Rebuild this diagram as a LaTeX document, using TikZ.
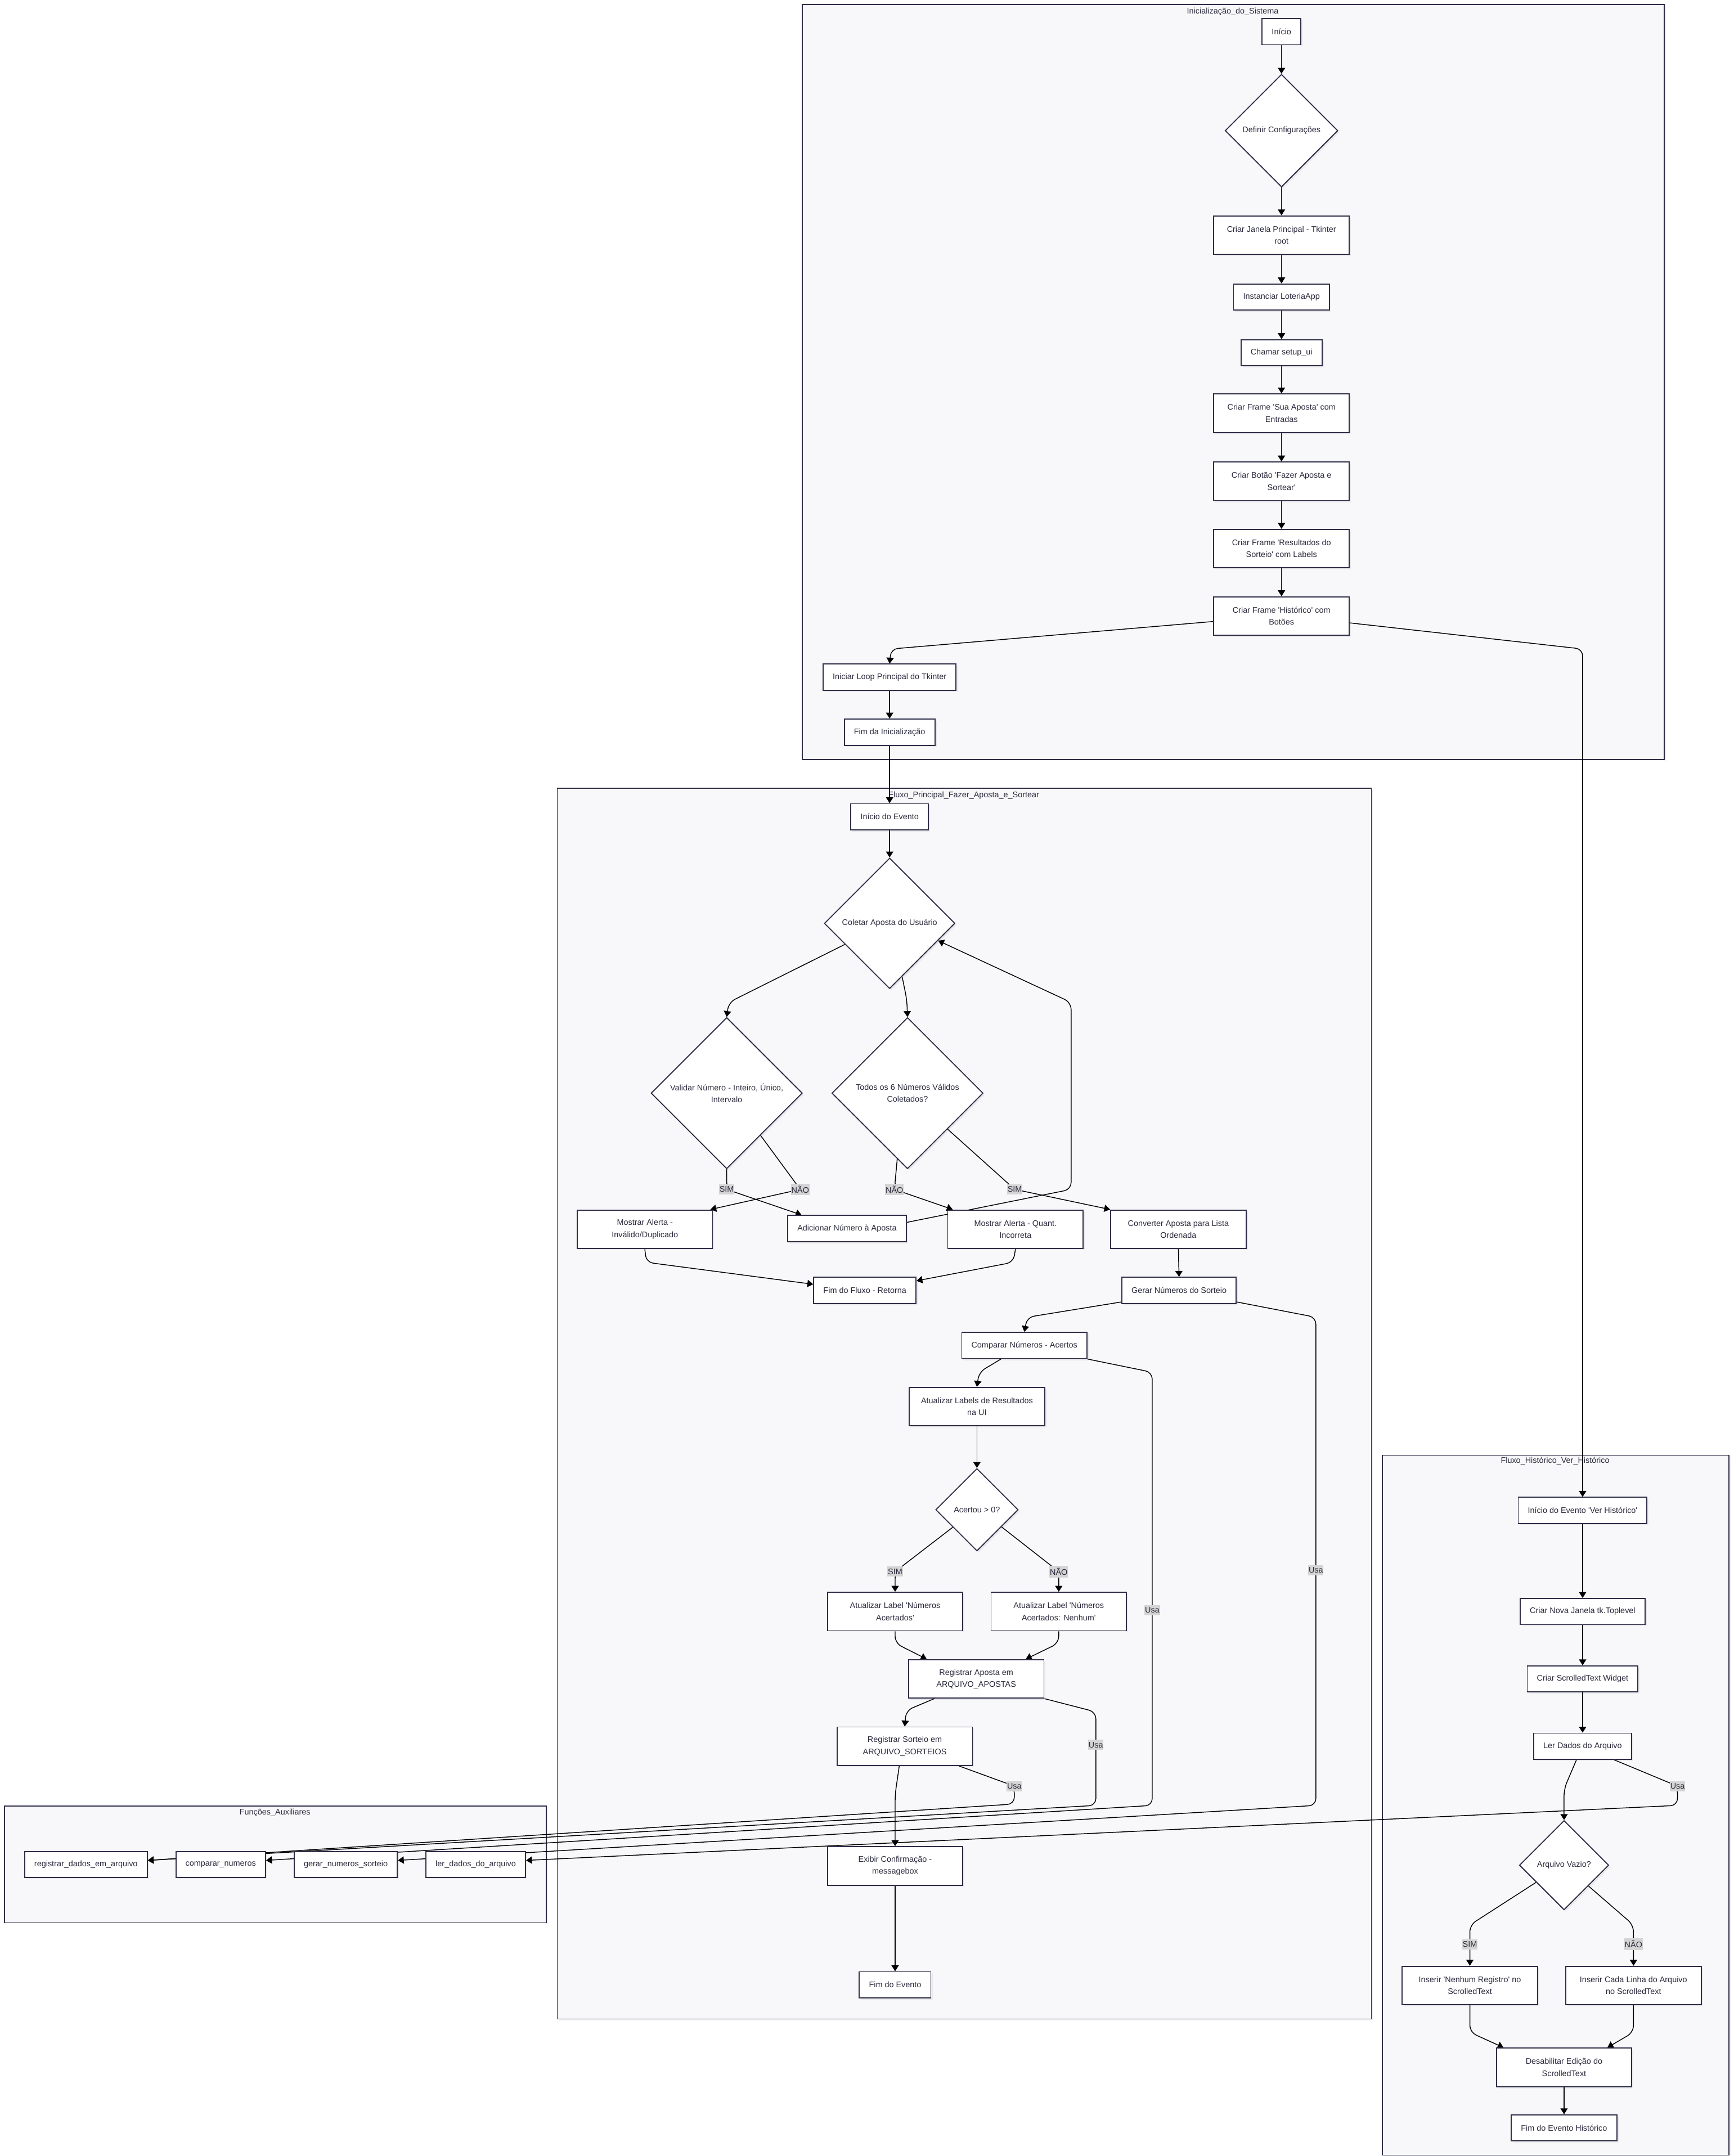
\documentclass[tikz,border=0pt]{standalone}
\usepackage{fontspec}
\setmainfont{Liberation Sans}
\usetikzlibrary{shapes.geometric,arrows.meta,calc,shadows}
\definecolor{ink}{HTML}{2A2A3C}
\definecolor{frame}{HTML}{2E2E48}
\definecolor{panel}{HTML}{F8F8FA}
\definecolor{tagfill}{HTML}{D4D4D4}
\newcommand{\nf}{\fontsize{5.9pt}{8.75pt}\selectfont}
\newcommand{\q}{\textquotesingle}

\pgfdeclarelayer{clusters}
\pgfdeclarelayer{edges}
\pgfsetlayers{clusters,edges,main}

\begin{document}
\begin{tikzpicture}[x=1pt,y=-1pt,
  stepbox/.style={draw=frame, fill=white, line width=0.75pt, font=\nf, text=ink,
    align=center, inner xsep=7pt, inner ysep=0pt, minimum height=19pt,
    drop shadow={shadow xshift=1.2pt,shadow yshift=-1.2pt,opacity=0.12}},
  twoline/.style={stepbox, minimum height=28pt, minimum width=98.5pt, inner xsep=2pt},
  choice/.style={stepbox, diamond, aspect=1, inner sep=0pt, minimum width=#1, minimum height=#1},
  cluster/.style={draw=frame, fill=panel, line width=0.7pt, anchor=north west, inner sep=0pt,
    drop shadow={shadow xshift=1.2pt,shadow yshift=-1.2pt,opacity=0.10}},
  ctitle/.style={font=\nf, text=ink, inner sep=0pt},
  flow/.style={draw=black, line width=0.6pt, rounded corners=5pt,
    -{Triangle[length=4.3pt,width=5.3pt]}},
  tag/.style={sharp corners, fill=tagfill, font=\nf, text=ink, inner xsep=0.3pt, inner ysep=1.6pt}
]
% page area
\useasboundingbox (0,0) rectangle (1261,1568);

% ---------- subgraph frames ----------
\begin{pgfonlayer}{clusters}
\fill[white] (0,0) rectangle (1261,1568);
\node[cluster, minimum width=627pt, minimum height=549pt] (initframe) at (583,3) {};
\node[ctitle] (inittitle) at (896.5,8.5) {Inicialização\_do\_Sistema};
\node[cluster, minimum width=592pt, minimum height=895pt] (mainframe) at (405,573) {};
\node[ctitle] (maintitle) at (701,578.5) {Fluxo\_Principal\_Fazer\_Aposta\_e\_Sortear};
\node[cluster, minimum width=252pt, minimum height=509pt] (histframe) at (1005,1058) {};
\node[ctitle] (histtitle) at (1131,1062.5) {Fluxo\_Histórico\_Ver\_Histórico};
\node[cluster, minimum width=394pt, minimum height=85pt] (auxframe) at (3,1313) {};
\node[ctitle] (auxtitle) at (200,1318.5) {Funções\_Auxiliares};
\end{pgfonlayer}

% ---------- system start-up ----------
\node[stepbox] (inicio) at (932,23) {Início};
\node[choice=82pt] (definir) at (932,95) {Definir Configurações};
\node[twoline] (janela) at (932,171) {Criar Janela Principal - Tkinter\\root};
\node[stepbox] (instanciar) at (932,216) {Instanciar LoteriaApp};
\node[stepbox] (setupui) at (932,256.5) {Chamar setup\_ui};
\node[twoline] (suaaposta) at (932,300.5) {Criar Frame \q Sua Aposta\q{} com\\Entradas};
\node[twoline] (botao) at (932,350) {Criar Botão \q Fazer Aposta e\\Sortear\q};
\node[twoline] (resultados) at (932,399) {Criar Frame \q Resultados do\\Sorteio\q{} com Labels};
\node[twoline] (historico) at (932,448) {Criar Frame \q Histórico\q{} com\\Botões};
\node[stepbox] (loopmain) at (647,492.5) {Iniciar Loop Principal do Tkinter};
\node[stepbox] (fiminit) at (647,532.5) {Fim da Inicialização};

% ---------- bet and draw ----------
\node[stepbox] (inicioevt) at (647,594) {Início do Evento};
\node[choice=95pt] (coletar) at (647,671.5) {Coletar Aposta do Usuário};
\node[choice=110pt] (validar) at (528.5,795) {Validar Número - Inteiro, Único,\\Intervalo};
\node[choice=110pt] (todos) at (660,795) {Todos os 6 Números Válidos\\Coletados?};
\node[twoline] (alertinv) at (469,894) {Mostrar Alerta -\\Inválido/Duplicado};
\node[stepbox] (adicionar) at (616,893.5) {Adicionar Número à Aposta};
\node[twoline] (alertquant) at (738.5,894) {Mostrar Alerta - Quant.\\Incorreta};
\node[twoline] (converter) at (857,894) {Converter Aposta para Lista\\Ordenada};
\node[stepbox] (fimfluxo) at (629,938.5) {Fim do Fluxo - Retorna};
\node[stepbox] (gerar) at (857.5,938.5) {Gerar Números do Sorteio};
\node[stepbox] (comparar) at (745,978.5) {Comparar Números - Acertos};
\node[twoline] (atualiz) at (710.5,1023) {Atualizar Labels de Resultados\\na UI};
\node[choice=60pt] (acertou) at (710.5,1098) {Acertou > 0?};
\node[twoline] (lblacert) at (651,1172) {Atualizar Label \q Números\\Acertados\q};
\node[twoline] (lblnenhum) at (770,1172) {Atualizar Label \q Números\\Acertados: Nenhum\q};
\node[twoline] (regaposta) at (710,1221) {Registrar Aposta em\\ARQUIVO\_APOSTAS};
\node[twoline] (regsorteio) at (658,1270) {Registrar Sorteio em\\ARQUIVO\_SORTEIOS};
\node[twoline] (exibir) at (651,1357) {Exibir Confirmação -\\messagebox};
\node[stepbox] (fimevento) at (651,1443.5) {Fim do Evento};

% ---------- history view ----------
\node[stepbox] (verhist) at (1151,1098.5) {Início do Evento \q Ver Histórico\q};
\node[stepbox] (novajanela) at (1151,1172) {Criar Nova Janela tk.Toplevel};
\node[stepbox] (scrolled) at (1151,1221) {Criar ScrolledText Widget};
\node[stepbox] (lerdados) at (1151,1270) {Ler Dados do Arquivo};
\node[choice=65pt] (arqvazio) at (1137.5,1356.5) {Arquivo Vazio?};
\node[twoline] (nenhumreg) at (1069,1444) {Inserir \q Nenhum Registro\q{} no\\ScrolledText};
\node[twoline] (cadalinha) at (1188,1444) {Inserir Cada Linha do Arquivo\\no ScrolledText};
\node[twoline] (desabilitar) at (1137.5,1503.5) {Desabilitar Edição do\\ScrolledText};
\node[stepbox] (fimhist) at (1137.5,1547.5) {Fim do Evento Histórico};

% ---------- helper functions ----------
\node[stepbox] (fregistrar) at (62.5,1356) {registrar\_dados\_em\_arquivo};
\node[stepbox] (fcomparar) at (160.5,1356) {comparar\_numeros};
\node[stepbox] (fgerar) at (251.5,1356) {gerar\_numeros\_sorteio};
\node[stepbox] (fler) at (346,1356) {ler\_dados\_do\_arquivo};

% ---------- connectors ----------
\begin{pgfonlayer}{edges}
% start-up chain
\draw[flow] (inicio.south) -- (definir.north);
\draw[flow] (definir.south) -- (janela.north);
\draw[flow] (janela.south) -- (instanciar.north);
\draw[flow] (instanciar.south) -- (setupui.north);
\draw[flow] (setupui.south) -- (suaaposta.north);
\draw[flow] (suaaposta.south) -- (botao.north);
\draw[flow] (botao.south) -- (resultados.north);
\draw[flow] (resultados.south) -- (historico.north);
\draw[flow] ([yshift=-4pt]historico.west) -- (648,472) -- (loopmain.north);
\draw[flow] ([yshift=-5pt]historico.east) -- (1151,472) -- (verhist.north);
\draw[flow] (loopmain.south) -- (fiminit.north);
\draw[flow] (fiminit.south) -- (inicioevt.north);

% bet and draw
\draw[flow] (inicioevt.south) -- (coletar.north);
\draw[flow] ($(coletar.west)!0.32!(coletar.south)$) -- (530,729) -- (validar.north);
\draw[flow] ($(coletar.south)!0.19!(coletar.east)$) -- (659.5,727) -- (todos.north);
\draw[flow] (validar.south) -- (528.5,865) node[tag] (tsim1) {SIM} -- ([xshift=-33pt]adicionar.north);
\draw[flow] ($(validar.south)!0.445!(validar.east)$) -- (582,865) node[tag] (tnao1) {NÃO} -- ([xshift=-2pt]alertinv.north east);
\draw[flow] ($(todos.south)!0.135!(todos.west)$) -- (650.5,865) node[tag] (tnao2) {NÃO} -- ([xshift=4pt]alertquant.north west);
\draw[flow] ($(todos.south)!0.527!(todos.east)$) -- (738,865) node[tag] (tsim2) {SIM} -- (converter.north west);
\draw[flow] ([yshift=4.5pt]adicionar.east) -- (779,865) -- (779,729) -- ($(coletar.east)!0.263!(coletar.south)$);
\draw[flow] (alertinv.south) -- (470,918) -- ([yshift=4.5pt]fimfluxo.west);
\draw[flow] (alertquant.south) -- (737,918) -- ([yshift=7pt]fimfluxo.east);
\draw[flow] (converter.south) -- (gerar.north);
\draw[flow] ([yshift=1.5pt]gerar.south west) -- (747,958) -- (comparar.north);
\draw[flow] ([yshift=1.5pt]gerar.south east) -- (957,958) -- (957,1142) node[tag] (tusa1) {Usa} -- (957,1313) -- ([yshift=3pt]fgerar.east);
\draw[flow] ([xshift=-17pt]comparar.south) -- (712,998) -- (atualiz.north);
\draw[flow] (comparar.south east) -- (838,998) -- (838,1171) node[tag] (tusa2) {Usa} -- (838,1313) -- ([yshift=3pt]fcomparar.east);
\draw[flow] (atualiz.south) -- (acertou.north);
\draw[flow] ($(acertou.west)!0.42!(acertou.south)$) -- (651,1143) node[tag] (tsim3) {SIM} -- (lblacert.north);
\draw[flow] ($(acertou.east)!0.41!(acertou.south)$) -- (770,1143) node[tag] (tnao3) {NÃO} -- (lblnenhum.north);
\draw[flow] (lblacert.south) -- (651,1195) -- ([xshift=-36pt]regaposta.north);
\draw[flow] (lblnenhum.south) -- (770,1195) -- ([xshift=36pt]regaposta.north);
\draw[flow] ([xshift=-30.5pt]regaposta.south) -- (659,1244) -- (regsorteio.north);
\draw[flow] (regaposta.south east) -- (797,1245) -- (797,1269) node[tag] (tusa3) {Usa} -- (797,1313) -- ([yshift=3pt]fregistrar.east);
\draw[flow] ([xshift=-10pt]regsorteio.south east) -- (737.7,1299) node[tag] (tusa4) {Usa} -- (737.7,1312) -- ([yshift=3pt]fregistrar.east);
\draw[flow] ([xshift=-4pt]regsorteio.south) -- (651,1305) -- (exibir.north);
\draw[flow] (exibir.south) -- (fimevento.north);

% history view
\draw[flow] (verhist.south) -- (novajanela.north);
\draw[flow] (novajanela.south) -- (scrolled.north);
\draw[flow] (scrolled.south) -- (lerdados.north);
\draw[flow] ([xshift=-4.5pt]lerdados.south) -- (1137.5,1301) -- (arqvazio.north);
\draw[flow] ([xshift=23pt]lerdados.south) -- (1220,1299) node[tag] (tusa5) {Usa} -- (1220,1313) -- ([yshift=3pt]fler.east);
\draw[flow] ($(arqvazio.west)!0.38!(arqvazio.south)$) -- (1069,1400) -- (1069,1414) node[tag] (tsim4) {SIM} -- (nenhumreg.north);
\draw[flow] ($(arqvazio.east)!0.46!(arqvazio.south)$) -- (1188,1400) -- (1188,1414) node[tag] (tnao4) {NÃO} -- (cadalinha.north);
\draw[flow] (nenhumreg.south) -- (1069,1478) -- ([xshift=-44pt]desabilitar.north);
\draw[flow] (cadalinha.south) -- (1188,1478) -- ([xshift=31.5pt]desabilitar.north);
\draw[flow] (desabilitar.south) -- (fimhist.north);
\end{pgfonlayer}
\end{tikzpicture}
\end{document}
